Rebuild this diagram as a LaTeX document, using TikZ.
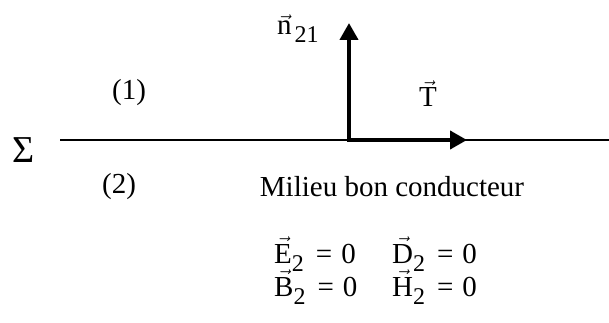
\documentclass[tikz,border=0pt]{standalone}
\usepackage{fontspec}
\setmainfont{Liberation Serif}
\usetikzlibrary{positioning,arrows.meta}
\newcommand{\vecl}[1]{$\vec{\hbox{#1}}$}
\newcommand{\idx}[1]{\raisebox{-8pt}{\fontsize{24}{26}\selectfont #1}}
\begin{document}
\begin{tikzpicture}[x=1pt,y=-1pt,font=\fontsize{29}{34}\selectfont,
  eq/.style={anchor=base west,inner sep=0pt}]
\useasboundingbox (0,0) rectangle (609,323);
\tikzset{fleche/.style={line width=4pt,-{Triangle[length=17pt,width=18pt]}}}
\draw(24,150) node[font=\fontsize{38}{40}\selectfont,inner sep=0pt] (Sig) {Σ};
\draw[line width=2pt](60,140) -- (609,140);
\coordinate (O) at (349,140);
\coordinate (N) at (349,23);
\coordinate (Tt) at (467,140);
\draw[fleche] ([yshift=2pt]O) -- (N);
\draw[fleche] ([xshift=-2pt]O) -- (Tt);
\draw(277,35) node[eq] (n21) {\vecl{n}\hspace{3pt}\idx{21}};
\draw(428,107) node[anchor=base,inner sep=0pt] (T) {\vecl{T}};
\draw(129,93) node (un) {(1)};
\draw(119,187) node (deux) {(2)};
\draw(392,187) node (milieu) {Milieu bon conducteur};
\draw(274,263) node[eq] (E) {\vecl{E}\idx{2}\hspace{12pt}=\hspace{9pt}0};
\draw(392,263) node[eq] (D) {\vecl{D}\idx{2}\hspace{12pt}=\hspace{9pt}0};
\draw(274,296) node[eq] (B) {\vecl{B}\idx{2}\hspace{12pt}=\hspace{9pt}0};
\draw(392,296) node[eq] (H) {\vecl{H}\idx{2}\hspace{12pt}=\hspace{9pt}0};
\end{tikzpicture}
\end{document}
